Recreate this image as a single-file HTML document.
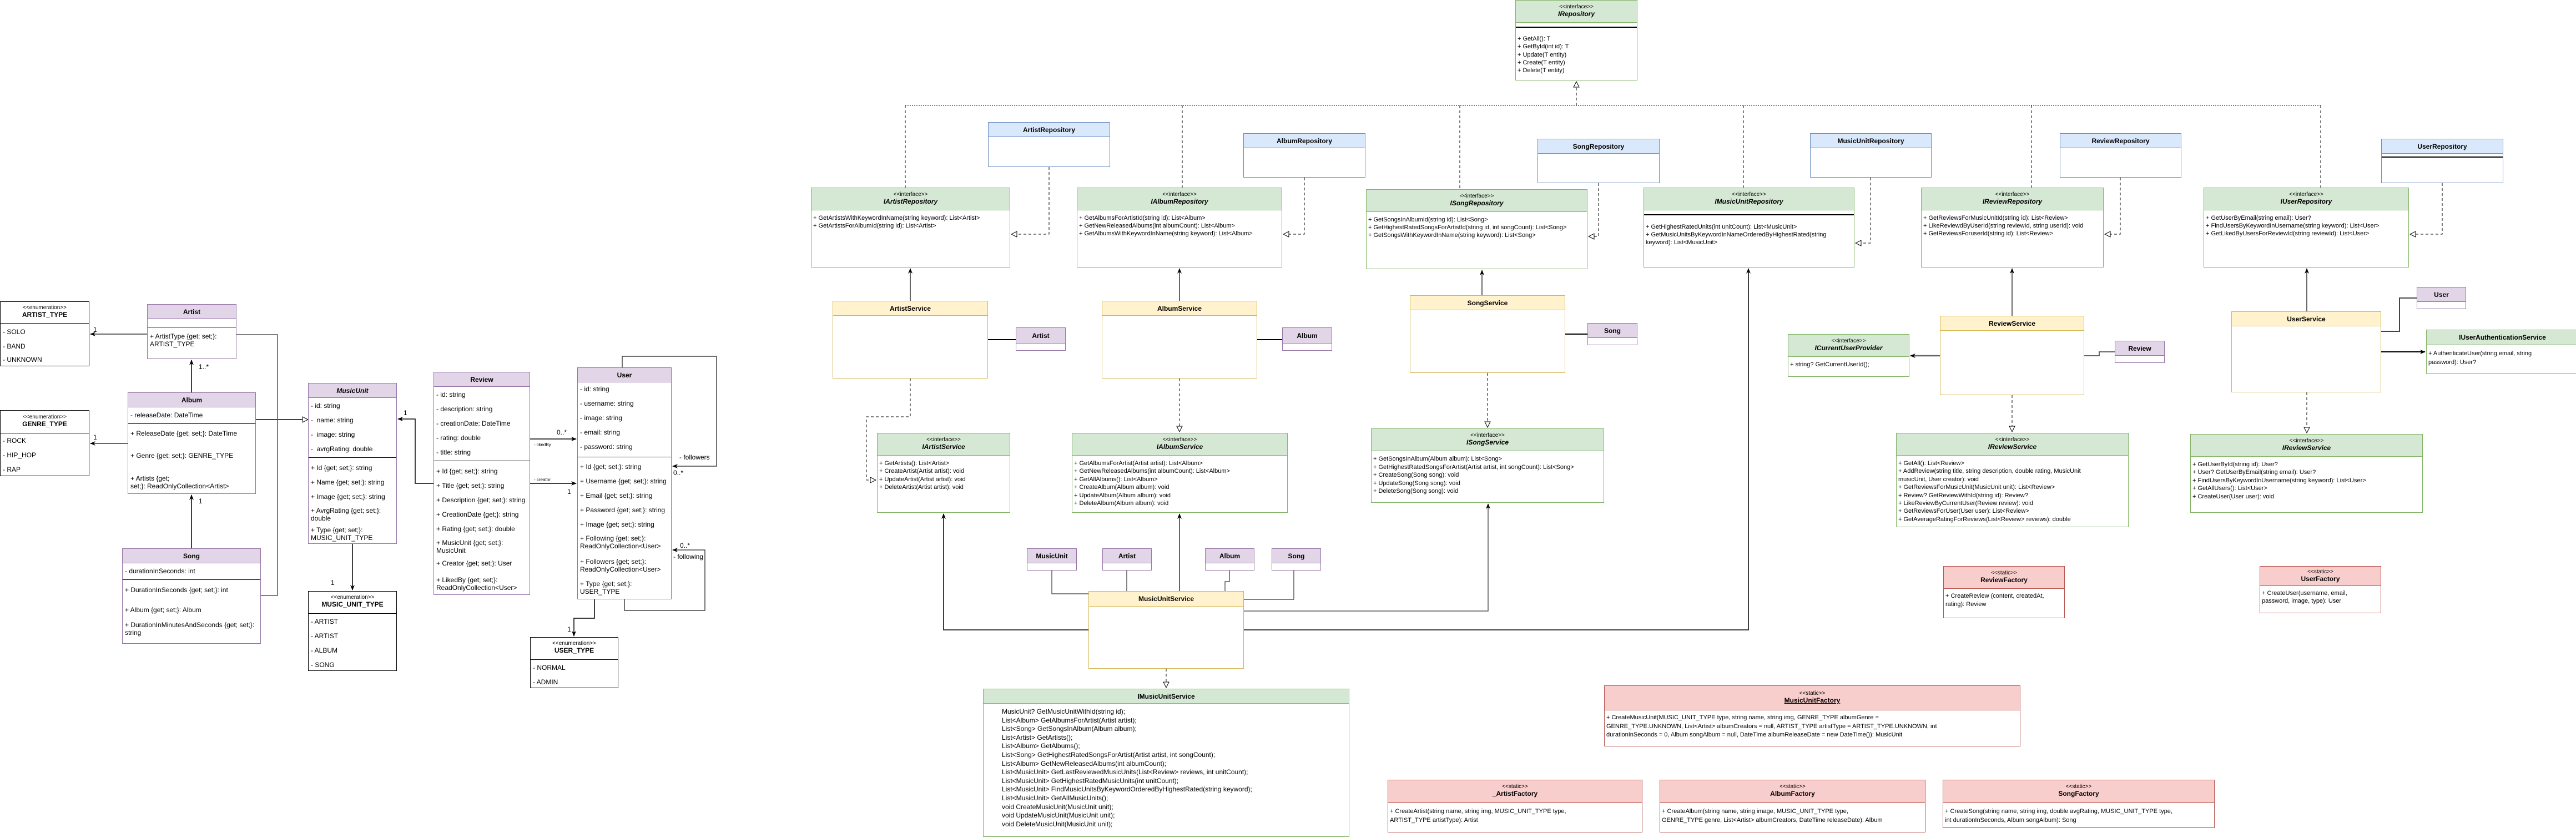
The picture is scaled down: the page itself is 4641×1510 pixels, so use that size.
<!DOCTYPE html>
<html><head><meta charset="utf-8">
<style>
body{margin:0;width:4641px;height:1510px;background:#fff;position:relative;overflow:hidden;font-family:"Liberation Sans",Arial,sans-serif;color:#000}
.b{position:absolute;box-sizing:border-box;border:1px solid #000;background:#fff}
.h{position:absolute;left:0;right:0;top:0;box-sizing:border-box;border-bottom:1px solid;text-align:center;font-weight:bold;font-size:12px}
.p{border-color:#9673a6}.p .h{background:#e1d5e7;border-color:#9673a6}
.g{border-color:#82b366}.g .h{background:#d5e8d4;border-color:#82b366}
.u{border-color:#6c8ebf}.u .h{background:#dae8fc;border-color:#6c8ebf}
.y{border-color:#d6b656}.y .h{background:#fff2cc;border-color:#d6b656}
.r{border-color:#b85450}.r .h{background:#f8cecc;border-color:#b85450}
.k .h{border-color:#000}
.t{position:absolute;white-space:nowrap;font-size:12px;line-height:14px}
.m{position:absolute;white-space:nowrap;font-size:11px;line-height:14px}
.st{font-weight:normal;font-size:10px;display:block}
.it{font-style:italic}
.sep{position:absolute;left:0;right:0;height:0;border-top:1px solid #000}
svg{position:absolute;left:0;top:0}
</style></head><body>
<svg width="4641" height="1510" viewBox="0 0 4641 1510">
<defs>
<marker id="a" markerWidth="10" markerHeight="10" refX="9" refY="5" orient="auto" markerUnits="userSpaceOnUse"><path d="M0,1 L10,5 L0,9 L3,5 Z" fill="#000"/></marker>
<marker id="t" markerWidth="12" markerHeight="12" refX="11" refY="6" orient="auto" markerUnits="userSpaceOnUse"><path d="M1,1 L11,6 L1,11 Z" fill="#fff" stroke="#000"/></marker>
</defs>
<g fill="none" stroke="#000" stroke-width="1.5">
<path d="M265,602 H163" marker-end="url(#a)" stroke="#666" stroke-width="2"/>
<path d="M345,707 V649" marker-end="url(#a)"/>
<path d="M230,799 H163" marker-end="url(#a)" stroke="#666" stroke-width="2"/>
<path d="M461,756 H555" marker-end="url(#t)"/>
<path d="M345,988 V892" marker-end="url(#a)"/>
<path d="M426,603 H500 V1073 H470" stroke="#555"/>
<path d="M635,980 V1063" marker-end="url(#a)"/>
<path d="M781,871 H748 V755 H717" marker-end="url(#a)"/>
<path d="M955,791 H1038" marker-end="url(#a)"/>
<path d="M955,871 H1038" marker-end="url(#a)"/>
<path d="M1121,662 V642 H1291 V840 H1212" marker-end="url(#a)" stroke="#444"/>
<path d="M1125,1080 V1100 H1270 V991 H1212" marker-end="url(#a)" stroke="#444"/>
<path d="M1071,1080 V1114 H1034 V1146" marker-end="url(#a)"/>
</g>
<g fill="none" stroke="#000" stroke-width="1" stroke-dasharray="5,4">
<path d="M1631,190 H4181" stroke-dasharray="2,2"/>
<path d="M2840,190 V147" marker-end="url(#t)"/>
<path d="M1631,190 V338 M2130,190 V338 M2630,190 V341 M3141,190 V338 M3660,190 V338 M4181,190 V338"/>
<path d="M1890,301 V422 H1822" marker-end="url(#t)"/>
<path d="M2350,320 V422 H2312" marker-end="url(#t)"/>
<path d="M2880,330 V426 H2862" marker-end="url(#t)"/>
<path d="M3370,320 V438 H3343" marker-end="url(#t)"/>
<path d="M3820,320 V422 H3792" marker-end="url(#t)"/>
<path d="M4400,330 V422 H4342" marker-end="url(#t)"/>
<path d="M1640,682 V751 H1561 V865 H1578" marker-end="url(#t)"/>
<path d="M2125,682 V778" marker-end="url(#t)"/>
<path d="M2680,672 V770" marker-end="url(#t)"/>
<path d="M3625,712 V778" marker-end="url(#t)"/>
<path d="M4156,707 V780" marker-end="url(#t)"/>
<path d="M2101,1205 V1239" marker-end="url(#t)"/>
</g>
<g fill="none" stroke="#000" stroke-width="1.2">
<path d="M1640,542 V484" marker-end="url(#a)"/>
<path d="M2125,542 V484" marker-end="url(#a)"/>
<path d="M2670,532 V487" marker-end="url(#a)"/>
<path d="M3625,569 V484" marker-end="url(#a)"/>
<path d="M4156,561 V484" marker-end="url(#a)"/>
<path d="M1780,612 H1830 M2265,612 H2310 M2820,602 H2860" stroke-width="2"/>
<path d="M3755,641 H3782 V634 H3810" stroke="#666" stroke-width="2"/>
<path d="M4290,597 H4323 V537 H4354" stroke="#444" stroke-width="2"/>
<path d="M3495,641 H3442" marker-end="url(#a)" stroke="#666" stroke-width="2.5"/>
<path d="M4290,634 H4369" marker-end="url(#a)" stroke-width="2"/>
<path d="M1961,1135 H1700 V926" marker-end="url(#a)" stroke-width="1.5"/>
<path d="M2125,1065 V926" marker-end="url(#a)"/>
<path d="M2241,1101 H2681 V908" marker-end="url(#a)" stroke="#555" stroke-width="1.5"/>
<path d="M2241,1135 H3150 V484" marker-end="url(#a)" stroke-width="1.5"/>
<path d="M1895,1028 V1070 H1961 M2030,1028 V1065 M2215,1028 V1048 H2207 V1065 M2331,1028 V1080 H2241" stroke="#333"/>
</g>
<g font-family="Liberation Sans, sans-serif" font-size="12">
<text x="168" y="598">1</text>
<text x="358" y="665">1..*</text>
<text x="168" y="792">1</text>
<text x="358" y="907">1</text>
<text x="596" y="1054">1</text>
<text x="727" y="748">1</text>
<text x="1003" y="783">0..*</text>
<text x="962" y="804" font-size="8">- likedBy</text>
<text x="962" y="867" font-size="8">- creator</text>
<text x="1022" y="890">1</text>
<text x="1224" y="828">- followers</text>
<text x="1213" y="856">0..*</text>
<text x="1225" y="987">0..*</text>
<text x="1213" y="1007">- following</text>
<text x="1022" y="1138">1</text>
</g>
</svg>

<!-- left entities -->
<div class="b k" style="left:0;top:543px;width:161px;height:117px"><div class="h" style="height:39px;padding-top:5px"><span class="st">&lt;&lt;enumeration&gt;&gt;</span>ARTIST_TYPE</div>
<div class="t" style="left:4px;top:47px">- SOLO</div><div class="t" style="left:4px;top:73px">- BAND</div><div class="t" style="left:4px;top:97px">- UNKNOWN</div></div>

<div class="b p" style="left:265px;top:548px;width:161px;height:99px"><div class="h" style="height:26px;line-height:26px">Artist</div><div class="sep" style="top:40px"></div>
<div class="t" style="left:4px;top:50px">+ ArtistType {get; set;}:<br>ARTIST_TYPE</div></div>

<div class="b p" style="left:230px;top:707px;width:231px;height:183px"><div class="h" style="height:26px;line-height:26px">Album</div>
<div class="t" style="left:4px;top:33px">- releaseDate: DateTime</div><div class="sep" style="top:55px"></div>
<div class="t" style="left:4px;top:66px">+ ReleaseDate {get; set;}: DateTime</div>
<div class="t" style="left:4px;top:106px">+ Genre {get; set;}: GENRE_TYPE</div>
<div class="t" style="left:4px;top:147px">+ Artists {get;<br>set;}: ReadOnlyCollection&lt;Artist&gt;</div></div>

<div class="b k" style="left:0;top:739px;width:161px;height:119px"><div class="h" style="height:41px;padding-top:6px"><span class="st">&lt;&lt;enumeration&gt;&gt;</span>GENRE_TYPE</div>
<div class="t" style="left:4px;top:47px">- ROCK</div><div class="t" style="left:4px;top:73px">- HIP_HOP</div><div class="t" style="left:4px;top:99px">- RAP</div></div>

<div class="b p" style="left:555px;top:690px;width:160px;height:290px"><div class="h it" style="height:26px;line-height:26px">MusicUnit</div>
<div class="t" style="left:4px;top:33px">- id: string</div><div class="t" style="left:4px;top:59px">-&nbsp; name: string</div><div class="t" style="left:4px;top:85px">-&nbsp; image: string</div><div class="t" style="left:4px;top:111px">-&nbsp; avrgRating: double</div>
<div class="sep" style="top:133px"></div>
<div class="t" style="left:4px;top:145px">+ Id {get; set;}: string</div><div class="t" style="left:4px;top:171px">+ Name {get; set;}: string</div><div class="t" style="left:4px;top:197px">+ Image {get; set;}: string</div>
<div class="t" style="left:4px;top:222px">+ AvrgRating {get; set;}:<br>double</div><div class="t" style="left:4px;top:257px">+ Type {get; set;}:<br>MUSIC_UNIT_TYPE</div></div>

<div class="b k" style="left:555px;top:1065px;width:160px;height:144px"><div class="h" style="height:40px;padding-top:5px"><span class="st">&lt;&lt;enumeration&gt;&gt;</span>MUSIC_UNIT_TYPE</div>
<div class="t" style="left:4px;top:47px">- ARTIST</div><div class="t" style="left:4px;top:73px">- ARTIST</div><div class="t" style="left:4px;top:99px">- ALBUM</div><div class="t" style="left:4px;top:125px">- SONG</div></div>

<div class="b p" style="left:781px;top:670px;width:174px;height:402px"><div class="h" style="height:26px;line-height:26px">Review</div>
<div class="t" style="left:4px;top:33px">- id: string</div><div class="t" style="left:4px;top:59px">- description: string</div><div class="t" style="left:4px;top:85px">- creationDate: DateTime</div><div class="t" style="left:4px;top:111px">- rating: double</div><div class="t" style="left:4px;top:137px">- title: string</div>
<div class="sep" style="top:159px"></div>
<div class="t" style="left:4px;top:171px">+ Id {get; set;}: string</div><div class="t" style="left:4px;top:197px">+ Title {get; set;}: string</div><div class="t" style="left:4px;top:223px">+ Description {get; set;}: string</div><div class="t" style="left:4px;top:249px">+ CreationDate {get;}: string</div><div class="t" style="left:4px;top:275px">+ Rating {get; set;}: double</div>
<div class="t" style="left:4px;top:300px">+ MusicUnit {get; set;}:<br>MusicUnit</div><div class="t" style="left:4px;top:337px">+ Creator {get; set;}: User</div><div class="t" style="left:4px;top:367px">+ LikedBy {get; set;}:<br>ReadOnlyCollection&lt;User&gt;</div></div>

<div class="b p" style="left:1040px;top:662px;width:170px;height:418px"><div class="h" style="height:26px;line-height:26px">User</div>
<div class="t" style="left:4px;top:31px">- id: string</div><div class="t" style="left:4px;top:57px">- username: string</div><div class="t" style="left:4px;top:83px">- image: string</div><div class="t" style="left:4px;top:109px">- email: string</div><div class="t" style="left:4px;top:135px">- password: string</div>
<div class="sep" style="top:160px"></div>
<div class="t" style="left:4px;top:171px">+ Id {get; set;}: string</div><div class="t" style="left:4px;top:197px">+ Username {get; set;}: string</div><div class="t" style="left:4px;top:223px">+ Email {get; set;}: string</div><div class="t" style="left:4px;top:249px">+ Password {get; set;}: string</div><div class="t" style="left:4px;top:275px">+ Image {get; set;}: string</div>
<div class="t" style="left:4px;top:300px">+ Following {get; set;}:<br>ReadOnlyCollection&lt;User&gt;</div><div class="t" style="left:4px;top:342px">+ Followers {get; set;}:<br>ReadOnlyCollection&lt;User&gt;</div><div class="t" style="left:4px;top:382px">+ Type {get; set;}:<br>USER_TYPE</div></div>

<div class="b k" style="left:955px;top:1148px;width:159px;height:92px"><div class="h" style="height:40px;padding-top:5px"><span class="st">&lt;&lt;enumeration&gt;&gt;</span>USER_TYPE</div>
<div class="t" style="left:4px;top:47px">- NORMAL</div><div class="t" style="left:4px;top:73px">- ADMIN</div></div>

<div class="b p" style="left:220px;top:988px;width:250px;height:172px"><div class="h" style="height:26px;line-height:26px">Song</div>
<div class="t" style="left:4px;top:33px">- durationInSeconds: int</div><div class="sep" style="top:55px"></div>
<div class="t" style="left:4px;top:67px">+ DurationInSeconds {get; set;}: int</div>
<div class="t" style="left:4px;top:103px">+ Album {get; set;}: Album</div>
<div class="t" style="left:4px;top:130px">+ DurationInMinutesAndSeconds {get; set;}:<br>string</div></div>

<!-- repositories -->
<div class="b g" style="left:2730px;top:0;width:220px;height:145px"><div class="h it" style="height:40px;padding-top:6px;font-size:12px"><span class="st" style="font-style:normal">&lt;&lt;interface&gt;&gt;</span>IRepository</div><div class="sep" style="top:47px;border-top-width:2px"></div>
<div class="m" style="left:3px;top:62px;line-height:14.3px">+ GetAll(): T<br>+ GetById(int id): T<br>+ Update(T entity)<br>+ Create(T entity)<br>+ Delete(T entity)</div></div>

<div class="b u" style="left:1780px;top:220px;width:220px;height:81px"><div class="h" style="height:26px;line-height:26px">ArtistRepository</div></div>
<div class="b u" style="left:2240px;top:240px;width:220px;height:80px"><div class="h" style="height:26px;line-height:26px">AlbumRepository</div></div>
<div class="b u" style="left:2770px;top:250px;width:220px;height:80px"><div class="h" style="height:26px;line-height:26px">SongRepository</div></div>
<div class="b u" style="left:3261px;top:240px;width:219px;height:80px"><div class="h" style="height:26px;line-height:26px">MusicUnitRepository</div></div>
<div class="b u" style="left:3711px;top:240px;width:219px;height:80px"><div class="h" style="height:26px;line-height:26px">ReviewRepository</div></div>
<div class="b u" style="left:4290px;top:250px;width:220px;height:80px"><div class="h" style="height:26px;line-height:26px">UserRepository</div><div class="sep" style="top:31px;border-top-width:2px"></div></div>

<div class="b g" style="left:1461px;top:338px;width:359px;height:144px"><div class="h it" style="height:40px;padding-top:6px"><span class="st" style="font-style:normal">&lt;&lt;interface&gt;&gt;</span>IArtistRepository</div>
<div class="m" style="left:3px;top:47px">+ GetArtistsWithKeywordInName(string keyword): List&lt;Artist&gt;<br>+ GetArtistsForAlbumId(string id): List&lt;Artist&gt;</div></div>
<div class="b g" style="left:1940px;top:338px;width:370px;height:144px"><div class="h it" style="height:40px;padding-top:6px"><span class="st" style="font-style:normal">&lt;&lt;interface&gt;&gt;</span>IAlbumRepository</div>
<div class="m" style="left:3px;top:47px">+ GetAlbumsForArtistId(string id): List&lt;Album&gt;<br>+ GetNewReleasedAlbums(int albumCount): List&lt;Album&gt;<br>+ GetAlbumsWithKeywordInName(string keyword): List&lt;Album&gt;</div></div>
<div class="b g" style="left:2461px;top:341px;width:399px;height:144px"><div class="h it" style="height:40px;padding-top:6px"><span class="st" style="font-style:normal">&lt;&lt;interface&gt;&gt;</span>ISongRepository</div>
<div class="m" style="left:3px;top:47px">+ GetSongsInAlbumId(string id): List&lt;Song&gt;<br>+ GetHighestRatedSongsForArtistId(string id, int songCount): List&lt;Song&gt;<br>+ GetSongsWithKeywordInName(string keyword): List&lt;Song&gt;</div></div>
<div class="b g" style="left:2961px;top:338px;width:380px;height:144px"><div class="h it" style="height:40px;padding-top:6px"><span class="st" style="font-style:normal">&lt;&lt;interface&gt;&gt;</span>IMusicUnitRepository</div><div class="sep" style="top:47px;border-top-width:2px"></div>
<div class="m" style="left:3px;top:63px">+ GetHighestRatedUnits(int unitCount): List&lt;MusicUnit&gt;<br>+ GetMusicUnitsByKeywordInNameOrderedByHighestRated(string<br>keyword): List&lt;MusicUnit&gt;</div></div>
<div class="b g" style="left:3461px;top:338px;width:329px;height:144px"><div class="h it" style="height:40px;padding-top:6px"><span class="st" style="font-style:normal">&lt;&lt;interface&gt;&gt;</span>IReviewRepository</div>
<div class="m" style="left:3px;top:47px">+ GetReviewsForMusicUnitId(string id): List&lt;Review&gt;<br>+ LikeReviewdByUserId(string reviewId, string userId): void<br>+ GetReviewsForuserId(string id): List&lt;Review&gt;</div></div>
<div class="b g" style="left:3970px;top:338px;width:370px;height:144px"><div class="h it" style="height:40px;padding-top:6px"><span class="st" style="font-style:normal">&lt;&lt;interface&gt;&gt;</span>IUserRepository</div>
<div class="m" style="left:3px;top:47px">+ GetUserByEmail(string email): User?<br>+ FindUsersByKeywordInUsername(string keyword): List&lt;User&gt;<br>+ GetLikedByUsersForReviewId(string reviewId): List&lt;User&gt;</div></div>

<!-- services -->
<div class="b y" style="left:1500px;top:542px;width:280px;height:140px"><div class="h" style="height:26px;line-height:26px">ArtistService</div></div>
<div class="b y" style="left:1985px;top:542px;width:280px;height:140px"><div class="h" style="height:26px;line-height:26px">AlbumService</div></div>
<div class="b y" style="left:2540px;top:532px;width:280px;height:140px"><div class="h" style="height:26px;line-height:26px">SongService</div></div>
<div class="b y" style="left:3495px;top:569px;width:260px;height:143px"><div class="h" style="height:26px;line-height:26px">ReviewService</div></div>
<div class="b y" style="left:4020px;top:561px;width:270px;height:146px"><div class="h" style="height:26px;line-height:26px">UserService</div></div>
<div class="b y" style="left:1961px;top:1065px;width:280px;height:140px"><div class="h" style="height:27px;line-height:27px">MusicUnitService</div></div>

<div class="b p" style="left:1830px;top:590px;width:90px;height:42px"><div class="h" style="height:28px;line-height:28px">Artist</div></div>
<div class="b p" style="left:2310px;top:590px;width:90px;height:42px"><div class="h" style="height:28px;line-height:28px">Album</div></div>
<div class="b p" style="left:2860px;top:582px;width:90px;height:40px"><div class="h" style="height:26px;line-height:26px">Song</div></div>
<div class="b p" style="left:3810px;top:614px;width:90px;height:40px"><div class="h" style="height:26px;line-height:26px">Review</div></div>
<div class="b p" style="left:4354px;top:517px;width:89px;height:40px"><div class="h" style="height:26px;line-height:26px">User</div></div>
<div class="b p" style="left:1850px;top:988px;width:90px;height:40px"><div class="h" style="height:26px;line-height:26px">MusicUnit</div></div>
<div class="b p" style="left:1986px;top:988px;width:89px;height:40px"><div class="h" style="height:26px;line-height:26px">Artist</div></div>
<div class="b p" style="left:2171px;top:988px;width:89px;height:40px"><div class="h" style="height:26px;line-height:26px">Album</div></div>
<div class="b p" style="left:2291px;top:988px;width:89px;height:40px"><div class="h" style="height:26px;line-height:26px">Song</div></div>

<!-- service interfaces -->
<div class="b g" style="left:1580px;top:780px;width:240px;height:144px"><div class="h it" style="height:40px;padding-top:6px"><span class="st" style="font-style:normal">&lt;&lt;interface&gt;&gt;</span>IArtistService</div>
<div class="m" style="left:3px;top:47px;line-height:14.4px">+ GetArtists(): List&lt;Artist&gt;<br>+ CreateArtist(Artist artist): void<br>+ UpdateArtist(Artist artist): void<br>+ DeleteArtist(Artist artist): void</div></div>
<div class="b g" style="left:1931px;top:780px;width:389px;height:144px"><div class="h it" style="height:40px;padding-top:6px"><span class="st" style="font-style:normal">&lt;&lt;interface&gt;&gt;</span>IAlbumService</div>
<div class="m" style="left:3px;top:47px;line-height:14.4px">+ GetAlbumsForArtist(Artist artist): List&lt;Album&gt;<br>+ GetNewReleasedAlbums(int albumCount): List&lt;Album&gt;<br>+ GetAllAlbums(): List&lt;Album&gt;<br>+ CreateAlbum(Album album): void<br>+ UpdateAlbum(Album album): void<br>+ DeleteAlbum(Album album): void</div></div>
<div class="b g" style="left:2470px;top:772px;width:420px;height:134px"><div class="h it" style="height:40px;padding-top:6px"><span class="st" style="font-style:normal">&lt;&lt;interface&gt;&gt;</span>ISongService</div>
<div class="m" style="left:3px;top:47px;line-height:14.5px">+ GetSongsInAlbum(Album album): List&lt;Song&gt;<br>+ GetHighestRatedSongsForArtist(Artist artist, int songCount): List&lt;Song&gt;<br>+ CreateSong(Song song): void<br>+ UpdateSong(Song song): void<br>+ DeleteSong(Song song): void</div></div>
<div class="b g" style="left:3221px;top:602px;width:219px;height:77px"><div class="h it" style="height:40px;padding-top:6px"><span class="st" style="font-style:normal">&lt;&lt;interface&gt;&gt;</span>ICurrentUserProvider</div>
<div class="m" style="left:3px;top:47px">+ string? GetCurrentUserId();</div></div>
<div class="b g" style="left:4371px;top:594px;width:275px;height:80px"><div class="h" style="height:27px;line-height:27px">IUserAuthenticationService</div>
<div class="m" style="left:3px;top:34px;line-height:16px">+ AuthenticateUser(string email, string<br>password): User?</div></div>
<div class="b g" style="left:3416px;top:780px;width:419px;height:170px"><div class="h it" style="height:40px;padding-top:6px"><span class="st" style="font-style:normal">&lt;&lt;interface&gt;&gt;</span>IReviewService</div>
<div class="m" style="left:3px;top:47px;line-height:14.4px">+ GetAll(): List&lt;Review&gt;<br>+ AddReview(string title, string description, double rating, MusicUnit<br>musicUnit, User creator): void<br>+ GetReviewsForMusicUnit(MusicUnit unit): List&lt;Review&gt;<br>+ Review? GetReviewWithId(string id): Review?<br>+ LikeReviewByCurrentUser(Review review): void<br>+ GetReviewsForUser(User user): List&lt;Review&gt;<br>+ GetAverageRatingForReviews(List&lt;Review&gt; reviews): double</div></div>
<div class="b g" style="left:3946px;top:782px;width:419px;height:142px"><div class="h it" style="height:40px;padding-top:6px"><span class="st" style="font-style:normal">&lt;&lt;interface&gt;&gt;</span>IReviewService</div>
<div class="m" style="left:3px;top:47px;line-height:14.4px">+ GetUserById(string id): User?<br>+ User? GetUserByEmail(string email): User?<br>+ FindUsersByKeywordInUsername(string keyword): List&lt;User&gt;<br>+ GetAllUsers(): List&lt;User&gt;<br>+ CreateUser(User user): void</div></div>

<div class="b g" style="left:1771px;top:1241px;width:660px;height:267px"><div class="h" style="height:26px;line-height:26px">IMusicUnitService</div>
<div class="t" style="left:33px;top:33px;line-height:15.6px">MusicUnit? GetMusicUnitWithId(string id);<br>List&lt;Album&gt; GetAlbumsForArtist(Artist artist);<br>List&lt;Song&gt; GetSongsInAlbum(Album album);<br>List&lt;Artist&gt; GetArtists();<br>List&lt;Album&gt; GetAlbums();<br>List&lt;Song&gt; GetHighestRatedSongsForArtist(Artist artist, int songCount);<br>List&lt;Album&gt; GetNewReleasedAlbums(int albumCount);<br>List&lt;MusicUnit&gt; GetLastReviewedMusicUnits(List&lt;Review&gt; reviews, int unitCount);<br>List&lt;MusicUnit&gt; GetHighestRatedMusicUnits(int unitCount);<br>List&lt;MusicUnit&gt; FindMusicUnitsByKeywordOrderedByHighestRated(string keyword);<br>List&lt;MusicUnit&gt; GetAllMusicUnits();<br>void CreateMusicUnit(MusicUnit unit);<br>void UpdateMusicUnit(MusicUnit unit);<br>void DeleteMusicUnit(MusicUnit unit);</div></div>

<!-- factories -->
<div class="b r" style="left:3501px;top:1020px;width:219px;height:94px"><div class="h" style="height:40px;padding-top:6px"><span class="st">&lt;&lt;static&gt;&gt;</span>ReviewFactory</div>
<div class="m" style="left:3px;top:46px;line-height:14.5px">+ CreateReview (content, createdAt,<br>rating): Review</div></div>
<div class="b r" style="left:4071px;top:1020px;width:219px;height:85px"><div class="h" style="height:35px;padding-top:4px"><span class="st">&lt;&lt;static&gt;&gt;</span>UserFactory</div>
<div class="m" style="left:3px;top:41px;line-height:14px">+ CreateUser(username, email,<br>password, image, type): User</div></div>
<div class="b r" style="left:2890px;top:1235px;width:750px;height:110px"><div class="h" style="height:44px;padding-top:8px"><span class="st">&lt;&lt;static&gt;&gt;</span><u>MusicUnitFactory</u></div>
<div class="m" style="left:3px;top:50px;line-height:15.5px">+ CreateMusicUnit(MUSIC_UNIT_TYPE type, string name, string img, GENRE_TYPE albumGenre =<br>GENRE_TYPE.UNKNOWN, List&lt;Artist&gt; albumCreators = null, ARTIST_TYPE artistType = ARTIST_TYPE.UNKNOWN, int<br>durationInSeconds = 0, Album songAlbum = null, DateTime albumReleaseDate = new DateTime()): MusicUnit</div></div>
<div class="b r" style="left:2500px;top:1405px;width:459px;height:95px"><div class="h" style="height:41px;padding-top:6px"><span class="st">&lt;&lt;static&gt;&gt;</span>_ArtistFactory</div>
<div class="m" style="left:3px;top:49px;line-height:15.5px">+ CreateArtist(string name, string img, MUSIC_UNIT_TYPE type,<br>ARTIST_TYPE artistType): Artist</div></div>
<div class="b r" style="left:2990px;top:1405px;width:479px;height:95px"><div class="h" style="height:41px;padding-top:6px"><span class="st">&lt;&lt;static&gt;&gt;</span>AlbumFactory</div>
<div class="m" style="left:3px;top:49px;line-height:15.5px">+ CreateAlbum(string name, string image, MUSIC_UNIT_TYPE type,<br>GENRE_TYPE genre, List&lt;Artist&gt; albumCreators, DateTime releaseDate): Album</div></div>
<div class="b r" style="left:3500px;top:1405px;width:490px;height:87px"><div class="h" style="height:41px;padding-top:6px"><span class="st">&lt;&lt;static&gt;&gt;</span>SongFactory</div>
<div class="m" style="left:3px;top:49px;line-height:15.5px">+ CreateSong(string name, string img, double avgRating, MUSIC_UNIT_TYPE type,<br>int durationInSeconds, Album songAlbum): Song</div></div>
</body></html>
